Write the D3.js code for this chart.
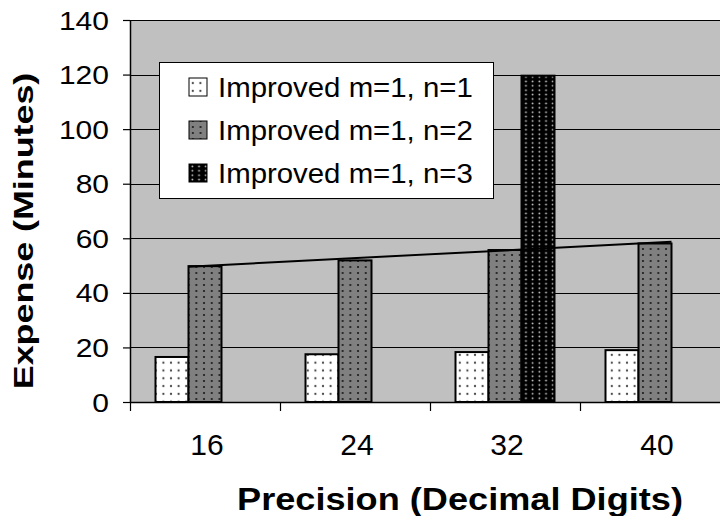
<!DOCTYPE html>
<html><head><meta charset="utf-8">
<script src="https://cdn.jsdelivr.net/npm/d3@7"></script>
<style>body{margin:0;background:#fff}svg{display:block}text{font-family:"Liberation Sans",Arial,sans-serif;fill:#000}</style>
</head><body><svg id="chart" width="720" height="516"></svg>
<script>
const categories = ["16", "24", "32", "40"];
const seriesNames = ["Improved m=1, n=1", "Improved m=1, n=2", "Improved m=1, n=3"];
const series1 = [16.5, 17.5, 18.3, 19.0];
const series2 = [49.8, 51.9, 55.7, 58.1];
const series3 = [null, null, 119.6, null];
const trendValues = [49.6, 58.7];
const yTicks = [0, 20, 40, 60, 80, 100, 120, 140];
const xTitle = "Precision (Decimal Digits)";
const yTitle = "Expense (Minutes)";

const svg = d3.select("#chart");
const L = 130, R = 730, T = 20, B = 402;
const x = d3.scaleBand().domain(categories).range([L, R]).padding(0);
const xs = d3.scaleBand().domain([0, 1, 2]).range([25.5, 124.5]).padding(0);
const y = d3.scaleLinear().domain([0, 140]).range([B, T]);

const defs = svg.append("defs");
function pat(id, w, h, bg, dot, r) {
  const p = defs.append("pattern").attr("id", id).attr("patternUnits", "userSpaceOnUse")
    .attr("width", w).attr("height", h);
  p.append("rect").attr("width", w).attr("height", h).attr("fill", bg);
  p.append("circle").attr("cx", w / 2).attr("cy", h / 2).attr("r", r).attr("fill", dot);
}
pat("p0", 7.6, 7.8, "#ffffff", "#444", 1.1);
pat("p1", 7.7, 6, "#808080", "#1a1a1a", 1.1);
pat("p2", 6.7, 4.4, "#000000", "#d8d8d8", 0.9);
const fills = ["url(#p0)", "url(#p1)", "url(#p2)"];

// plot background
svg.append("rect").attr("x", L).attr("y", T).attr("width", R - L).attr("height", B - T).attr("fill", "#c0c0c0");

// gridlines
svg.append("g").selectAll("line").data(yTicks.filter(d => d > 0)).join("line")
  .attr("x1", L).attr("x2", R)
  .attr("y1", d => Math.round(y(d)) + 0.5).attr("y2", d => Math.round(y(d)) + 0.5)
  .attr("stroke", "#000").attr("stroke-width", 1);

// bars
const data = [series1, series2, series3];
const bars = [];
data.forEach((arr, si) => arr.forEach((v, ci) => { if (v != null) bars.push({ si, ci, v }); }));
svg.append("g").selectAll("rect").data(bars).join("rect")
  .attr("x", d => x(categories[d.ci]) + xs(d.si))
  .attr("width", xs.bandwidth())
  .attr("y", d => y(d.v))
  .attr("height", d => y(0) - y(d.v))
  .attr("fill", d => fills[d.si])
  .attr("stroke", "#000").attr("stroke-width", 2);

// trend line
svg.append("line")
  .attr("x1", x(categories[0]) + xs(1))
  .attr("x2", x(categories[categories.length - 1]) + xs(1) + xs.bandwidth())
  .attr("y1", y(trendValues[0])).attr("y2", y(trendValues[1]))
  .attr("stroke", "#000").attr("stroke-width", 2);

// y axis
const yAxis = svg.append("g").attr("transform", `translate(${L},0)`)
  .call(d3.axisLeft(y).tickValues(yTicks).tickSize(7).tickSizeOuter(0));
yAxis.select(".domain").attr("stroke", "#000").attr("stroke-width", 1.5);
yAxis.selectAll(".tick line").attr("stroke", "#000").attr("stroke-width", 1.2);
yAxis.selectAll(".tick text").attr("x", -21 / 1.2).attr("dy", "0.36em")
  .attr("transform", "scale(1.2,1)")
  .style("font-size", "25px").style("font-family", '"Liberation Sans",Arial,sans-serif');

// x axis
svg.append("line").attr("x1", L).attr("x2", R).attr("y1", B + 0.5).attr("y2", B + 0.5)
  .attr("stroke", "#000").attr("stroke-width", 1.5);
const bounds = categories.map(c => x(c)).concat([R]);
svg.append("g").selectAll("line").data(bounds).join("line")
  .attr("x1", d => d + 0.5).attr("x2", d => d + 0.5).attr("y1", B).attr("y2", B + 9)
  .attr("stroke", "#000").attr("stroke-width", 1.2);
svg.append("g").selectAll("text").data(categories).join("text")
  .attr("transform", d => `translate(${x(d) + x.bandwidth() / 2 + 2},455)`)
  .attr("text-anchor", "middle").style("font-size", "30px").text(d => d);

// axis titles
svg.append("text").attr("transform", "translate(460,510) scale(1.13,1)")
  .attr("text-anchor", "middle").style("font-size", "32px").style("font-weight", "bold").text(xTitle);
svg.append("text").attr("transform", "translate(33,231) rotate(-90) scale(1.28,1)")
  .attr("text-anchor", "middle").style("font-size", "28px").style("font-weight", "bold").text(yTitle);

// legend
const lg = svg.append("g");
lg.append("rect").attr("x", 159.5).attr("y", 62.5).attr("width", 334).attr("height", 136)
  .attr("fill", "#fff").attr("stroke", "#000").attr("stroke-width", 1);
const rows = lg.selectAll("g.row").data(seriesNames).join("g")
  .attr("transform", (d, i) => `translate(189,${87 + i * 43})`);
rows.append("rect").attr("x", 0).attr("y", -9).attr("width", 18).attr("height", 18)
  .attr("fill", (d, i) => fills[i]).attr("stroke", "#000").attr("stroke-width", 1);
rows.append("text").attr("transform", "translate(29,10) scale(1.05,1)").style("font-size", "28px").text(d => d);
</script></body></html>
